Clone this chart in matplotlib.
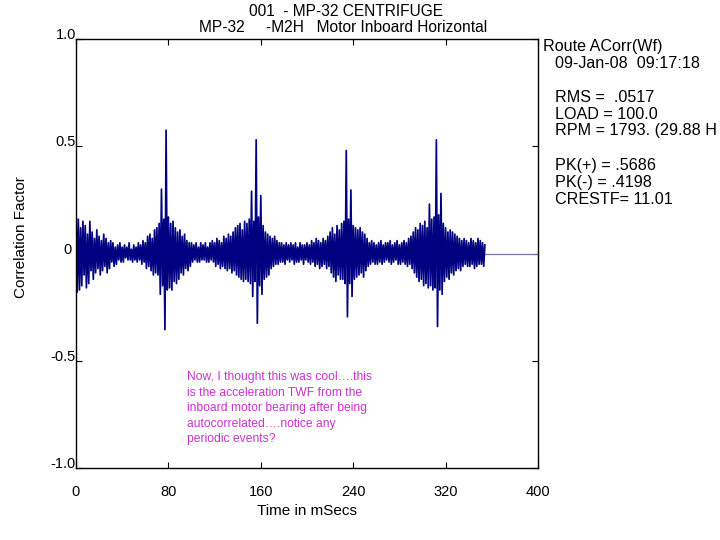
import matplotlib
matplotlib.use("Agg")
import matplotlib.pyplot as plt
import numpy as np

plt.rcParams['font.family'] = ['Liberation Sans', 'DejaVu Sans']

# ---- data ----
time_start_ms = 0.0
time_step_ms = 1.0
corr = [
    0.22, -0.18, 0.16, -0.17, 0.12, -0.15, 0.15, -0.10, 0.13, -0.16,
    0.09, -0.14, 0.15, -0.08, 0.10, -0.12, 0.07, -0.09, 0.11, -0.07,
    0.08, -0.10, 0.06, -0.08, 0.09, -0.06, 0.07, -0.09, 0.05, -0.07,
    0.06, -0.04, 0.05, -0.06, 0.03, -0.05, 0.04, -0.03, 0.05, -0.04,
    0.03, -0.04, 0.04, -0.02, 0.03, -0.03, 0.05, -0.03, 0.02, -0.04,
    0.04, -0.03, 0.03, -0.04, 0.05, -0.03, 0.04, -0.05, 0.06, -0.04,
    0.05, -0.07, 0.08, -0.06, 0.09, -0.08, 0.07, -0.10, 0.11, -0.09,
    0.12, -0.10, 0.14, -0.19, 0.30, -0.15, 0.16, -0.355, 0.575, -0.17,
    0.17, -0.16, 0.14, -0.17, 0.15, -0.13, 0.12, -0.14, 0.10, -0.12,
    0.11, -0.09, 0.08, -0.10, 0.09, -0.07, 0.06, -0.08, 0.05, -0.06,
    0.05, -0.04, 0.04, -0.03, 0.05, -0.04, 0.03, -0.04, 0.05, -0.03,
    0.04, -0.03, 0.05, -0.04, 0.03, -0.04, 0.05, -0.03, 0.06, -0.04,
    0.05, -0.06, 0.07, -0.05, 0.06, -0.07, 0.05, -0.06, 0.08, -0.07,
    0.07, -0.08, 0.09, -0.07, 0.08, -0.09, 0.10, -0.08, 0.12, -0.10,
    0.13, -0.11, 0.14, -0.12, 0.11, -0.13, 0.15, -0.12, 0.14, -0.13,
    0.16, -0.14, 0.29, -0.20, 0.15, -0.13, 0.53, -0.325, 0.17, -0.15,
    0.27, -0.19, 0.13, -0.12, 0.10, -0.11, 0.09, -0.10, 0.08, -0.07,
    0.07, -0.06, 0.08, -0.05, 0.06, -0.05, 0.05, -0.04, 0.05, -0.04,
    0.04, -0.05, 0.05, -0.03, 0.04, -0.04, 0.05, -0.03, 0.04, -0.05,
    0.05, -0.04, 0.03, -0.04, 0.05, -0.03, 0.04, -0.05, 0.04, -0.03,
    0.05, -0.04, 0.04, -0.05, 0.06, -0.04, 0.05, -0.06, 0.07, -0.05,
    0.06, -0.07, 0.05, -0.06, 0.07, -0.05, 0.06, -0.07, 0.08, -0.06,
    0.10, -0.09, 0.12, -0.11, 0.09, -0.13, 0.13, -0.10, 0.11, -0.12,
    0.14, -0.12, 0.15, -0.14, 0.48, -0.295, 0.16, -0.14, 0.296, -0.20,
    0.13, -0.12, 0.12, -0.11, 0.11, -0.10, 0.12, -0.09, 0.10, -0.11,
    0.09, -0.08, 0.07, -0.06, 0.05, -0.05, 0.06, -0.04, 0.05, -0.05,
    0.04, -0.05, 0.05, -0.04, 0.06, -0.05, 0.04, -0.04, 0.05, -0.03,
    0.05, -0.04, 0.06, -0.05, 0.04, -0.04, 0.05, -0.03, 0.06, -0.05,
    0.04, -0.05, 0.05, -0.04, 0.06, -0.05, 0.05, -0.06, 0.07, -0.05,
    0.08, -0.07, 0.10, -0.09, 0.12, -0.11, 0.11, -0.13, 0.14, -0.12,
    0.13, -0.15, 0.15, -0.14, 0.12, -0.16, 0.23, -0.15, 0.16, -0.17,
    0.17, -0.16, 0.53, -0.34, 0.18, -0.17, 0.28, -0.19, 0.14, -0.13,
    0.12, -0.11, 0.10, -0.12, 0.11, -0.09, 0.10, -0.10, 0.09, -0.08,
    0.08, -0.07, 0.07, -0.08, 0.06, -0.06, 0.07, -0.05, 0.06, -0.06,
    0.05, -0.06, 0.07, -0.05, 0.06, -0.07, 0.05, -0.06, 0.07, -0.05,
    0.06, -0.05, 0.05, -0.06, 0.04,
]
tail_time = [354.0, 400.0]
tail_corr = [0.0, 0.0]

x_ticks = [0, 80, 160, 240, 320, 400]
x_tick_labels = ["0", "80", "160", "240", "320", "400"]
y_ticks = [-1.0, -0.5, 0.0, 0.5, 1.0]
y_tick_labels = ["-1.0", "-0.5", "0 ", "0.5", "1.0"]

title_lines = ["001  - MP-32 CENTRIFUGE",
               "MP-32     -M2H   Motor Inboard Horizontal"]
info_header = ["Route ACorr(Wf)", "09-Jan-08  09:17:18"]
info_block1 = ["RMS =  .0517", "LOAD = 100.0", "RPM = 1793. (29.88 H"]
info_block2 = ["PK(+) = .5686", "PK(-) = .4198", "CRESTF= 11.01"]
note_text = ("Now, I thought this was cool\u2026.this\n"
             "is the acceleration TWF from the\n"
             "inboard motor bearing after being\n"
             "autocorrelated\u2026.notice any\n"
             "periodic events?")

# ---- figure ----
W, H = 720, 540
fig = plt.figure(figsize=(7.2, 5.4), dpi=100)
ax = fig.add_axes([76 / W, 1 - 468 / H, (538 - 76) / W, (468 - 39) / H])

t = time_start_ms + time_step_ms * np.arange(len(corr))
ax.plot(tail_time, tail_corr, color='#7878a8', lw=0.9)
ax.plot(t, corr, color='#000080', lw=1.25)

ax.set_xlim(0, 400)
ax.set_ylim(-1, 1)
ax.set_xticks(x_ticks)
ax.set_xticklabels(x_tick_labels)
ax.set_yticks(y_ticks)
ax.set_yticklabels(y_tick_labels)
ax.tick_params(direction='in', length=4, width=0.8, top=True, right=True,
               labelsize=10.5, colors='black')
ax.tick_params(axis='x', pad=12)
ax.tick_params(axis='y', pad=0)
for lab in ax.get_yticklabels():
    lab.set_verticalalignment('baseline')
for s in ax.spines.values():
    s.set_linewidth(1.0)
    s.set_color('black')

ax.set_xlabel("Time in mSecs", fontsize=11, labelpad=4)
ax.set_ylabel("Correlation Factor", fontsize=11)
ax.yaxis.set_label_coords((28 - 76) / 462, (468 - 237) / 429)

fig.text(346 / W, 1 - 12 / H, title_lines[0], ha='center', va='center', fontsize=11.2)
fig.text(343 / W, 1 - 28 / H, title_lines[1], ha='center', va='center', fontsize=11.2)

fs_info = 11.6
fig.text(543 / W, 1 - 47 / H, info_header[0], ha='left', va='center', fontsize=fs_info)
fig.text(555 / W, 1 - 64 / H, info_header[1], ha='left', va='center', fontsize=fs_info)
for i, s in enumerate(info_block1):
    fig.text(555 / W, 1 - (98 + 16.5 * i) / H, s, ha='left', va='center', fontsize=fs_info)
for i, s in enumerate(info_block2):
    fig.text(555 / W, 1 - (166 + 16.5 * i) / H, s, ha='left', va='center', fontsize=fs_info)

fig.text(187 / W, 1 - 371 / H, note_text, ha='left', va='top', fontsize=8.7,
         color='#cc33cc', linespacing=1.4)

fig.savefig("out.png", dpi=100)
